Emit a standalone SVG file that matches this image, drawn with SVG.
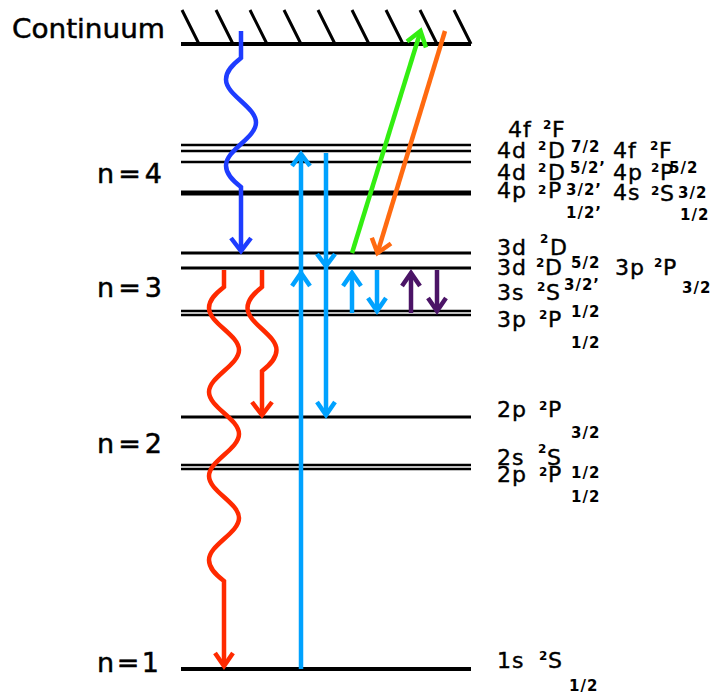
<svg xmlns="http://www.w3.org/2000/svg" width="711" height="694" viewBox="0 0 711 694">
<style>
.lv{stroke:#000;fill:none}
.t{font-family:"DejaVu Sans",sans-serif;font-size:22px;letter-spacing:1px;fill:#000;stroke:#000;stroke-width:0.4}
.n{font-family:"DejaVu Sans",sans-serif;font-size:27px;fill:#000;stroke:#000;stroke-width:0.5}
.s{font-family:"DejaVu Sans",sans-serif;font-size:12px;font-weight:bold;fill:#000}
.f{font-family:"DejaVu Sans",sans-serif;font-size:15px;font-weight:bold;letter-spacing:1px;fill:#000}
.a{fill:none;stroke-width:4.5;stroke-linejoin:miter;stroke-linecap:butt}
</style>
<rect width="711" height="694" fill="#fff"/>
<g id="continuum">
<line class="lv" x1="181" y1="44" x2="471" y2="44" stroke-width="4"/>
<path class="lv" stroke-width="3" d="M182,10 L199,44 M216,10 L233,44 M250,10 L267,44 M284,10 L301,44 M318,10 L335,44 M352,10 L369,44 M386,10 L403,44 M420,10 L437,44 M454,10 L471,44"/>
<text class="n" x="12" y="38" font-size="28" textLength="153" lengthAdjust="spacingAndGlyphs">Continuum</text>
</g>
<g id="level-n4">
<line class="lv" x1="181" y1="145" x2="471" y2="145" stroke-width="2.5"/>
<line class="lv" x1="181" y1="151" x2="471" y2="151" stroke-width="2.5"/>
<line class="lv" x1="181" y1="162" x2="471" y2="162" stroke-width="2.5"/>
<line class="lv" x1="181" y1="193" x2="471" y2="193" stroke-width="5"/>
<text class="n" x="97" y="183" textLength="65" lengthAdjust="spacing">n=4</text>
</g>
<g id="level-n3">
<line class="lv" x1="181" y1="253" x2="471" y2="253" stroke-width="3"/>
<line class="lv" x1="181" y1="268" x2="471" y2="268" stroke-width="3"/>
<line class="lv" x1="181" y1="311" x2="471" y2="311" stroke-width="2.5"/>
<line class="lv" x1="181" y1="315" x2="471" y2="315" stroke-width="2.5"/>
<text class="n" x="97" y="297" textLength="65" lengthAdjust="spacing">n=3</text>
</g>
<g id="level-n2">
<line class="lv" x1="181" y1="417" x2="471" y2="417" stroke-width="3"/>
<line class="lv" x1="181" y1="465" x2="471" y2="465" stroke-width="2.5"/>
<line class="lv" x1="181" y1="469" x2="471" y2="469" stroke-width="2.5"/>
<text class="n" x="97" y="453" textLength="65" lengthAdjust="spacing">n=2</text>
</g>
<g id="level-n1">
<line class="lv" x1="181" y1="669" x2="471" y2="669" stroke-width="4"/>
<text class="n" x="97" y="672" textLength="62" lengthAdjust="spacing">n=1</text>
</g>
<g id="labels-n4">
<text class="t" x="508" y="137">4f</text><text class="s" x="543" y="129">2</text><text class="t" x="552" y="137">F</text>
<text class="t" x="497" y="158">4d</text><text class="s" x="538" y="150">2</text><text class="t" x="548" y="158">D</text><text class="f" x="571" y="152">7/2</text>
<text class="t" x="613" y="158">4f</text><text class="s" x="650" y="150">2</text><text class="t" x="659" y="158">F</text>
<text class="t" x="497" y="180">4d</text><text class="s" x="538" y="172">2</text><text class="t" x="548" y="180">D</text><text class="f" x="570" y="173">5/2’</text>
<text class="t" x="613" y="180">4p</text><text class="s" x="651" y="172">2</text><text class="t" x="660" y="180">P</text><text class="f" x="669" y="173">5/2</text>
<text class="t" x="497" y="198">4p</text><text class="s" x="538" y="194">2</text><text class="t" x="548" y="198">P</text><text class="f" x="566" y="195">3/2’</text>
<text class="t" x="613" y="200">4s</text><text class="s" x="651" y="195">2</text><text class="t" x="660" y="201">S</text><text class="f" x="678" y="198">3/2</text>
<text class="f" x="566" y="218">1/2’</text><text class="f" x="680" y="220">1/2</text>
</g>
<g id="labels-n3">
<text class="t" x="497" y="255">3d</text><text class="s" x="540" y="243">2</text><text class="t" x="550" y="255">D</text>
<text class="t" x="497" y="275">3d</text><text class="s" x="536" y="267">2</text><text class="t" x="545" y="275">D</text><text class="f" x="571" y="268">5/2</text>
<text class="t" x="615" y="275">3p</text><text class="s" x="654" y="267">2</text><text class="t" x="663" y="275">P</text><text class="f" x="682" y="293">3/2</text>
<text class="t" x="497" y="300">3s</text><text class="s" x="537" y="291">2</text><text class="t" x="546" y="300">S</text><text class="f" x="564" y="290">3/2’</text>
<text class="t" x="497" y="327">3p</text><text class="s" x="539" y="319">2</text><text class="t" x="548" y="327">P</text><text class="f" x="571" y="317">1/2</text>
<text class="f" x="571" y="348">1/2</text>
</g>
<g id="labels-n2">
<text class="t" x="497" y="417">2p</text><text class="s" x="539" y="410">2</text><text class="t" x="548" y="417">P</text><text class="f" x="571" y="438">3/2</text>
<text class="t" x="497" y="465">2s</text><text class="s" x="538" y="453">2</text><text class="t" x="547" y="465">S</text>
<text class="t" x="497" y="482">2p</text><text class="s" x="539" y="476">2</text><text class="t" x="548" y="482">P</text><text class="f" x="571" y="478">1/2</text>
<text class="f" x="571" y="502">1/2</text>
</g>
<g id="labels-n1">
<text class="t" x="497" y="668">1s</text><text class="s" x="539" y="660">2</text><text class="t" x="548" y="668">S</text><text class="f" x="569" y="691">1/2</text>
</g>
<g id="connectors">
<g stroke="#1e3cff" class="a">
<path d="M241,31 V58 C232.75,64.45 226,70.9 226,79.5 C226,95 256,107 256,122.5 C256,138 226,150 226,165.5 C226,174.1 232.75,180.6 241,187 V250"/>
<path d="M231,238 L241,251 L251,238"/>
</g>
<g stroke="#ff2a00" class="a">
<path d="M224,270 V287 C215.75,293.3 209,299.6 209,308 C209,323.1 239,334.9 239,350 C239,365.1 209,376.9 209,392 C209,407.1 239,418.9 239,434 C239,449.1 209,460.9 209,476 C209,491.1 239,502.9 239,518 C239,533.1 209,544.9 209,560 C209,568.4 215.75,574.7 224,581 V664"/>
<path d="M215,653 L224,666 L233,653"/>
<path d="M262,270 V287 C254,293.3 247.5,299.6 247.5,308 C247.5,323.1 276.5,334.9 276.5,350 C276.5,358.4 270,364.7 262,371 V413"/>
<path d="M252,402 L262,415 L272,402"/>
</g>
<g stroke="#00a2ff" class="a">
<path d="M301,669 V157"/>
<path d="M292,166 L301,154 L310,166"/>
<path d="M292,286 L301,273 L310,286"/>
<path d="M326,153 V413"/>
<path d="M317,254 L326,266 L335,254"/>
<path d="M317,402 L326,415 L335,402"/>
<path d="M352,313 V274"/>
<path d="M343,286 L352,273 L361,286"/>
<path d="M377,270 V309"/>
<path d="M368,298 L377,311 L386,298"/>
</g>
<g stroke="#4b1466" class="a">
<path d="M411,313 V274"/>
<path d="M402,286 L411,273 L420,286"/>
<path d="M437,270 V309"/>
<path d="M428,298 L437,311 L446,298"/>
</g>
<g stroke="#33ee11" class="a">
<path d="M352,253 L420,33"/>
<path d="M407,41.5 L420.5,31 L426,47.5"/>
</g>
<g stroke="#ff6a10" class="a">
<path d="M445,31 L378,251"/>
<path d="M371.8,237.7 L377.5,253 L391,243.5"/>
</g>
</g>
</svg>
